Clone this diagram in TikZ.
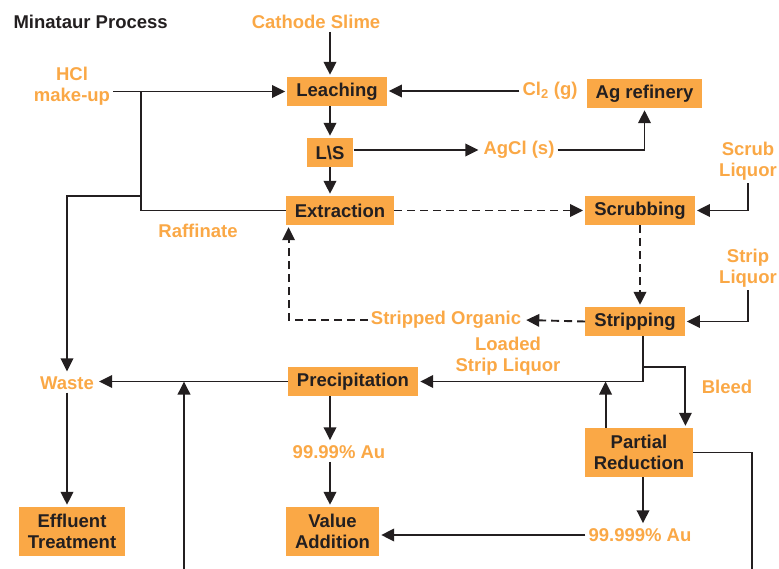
\documentclass[tikz,border=0pt]{standalone}
\usepackage{fontspec}
\setmainfont{Liberation Sans}
\usetikzlibrary{arrows.meta}
\definecolor{procorange}{RGB}{250,168,70}
\definecolor{procink}{RGB}{35,31,32}
\begin{document}
\begin{tikzpicture}[x=1pt,y=-1pt,
  font=\fontsize{18.5}{21}\selectfont\bfseries,
  box/.style={fill=procorange,text=procink,inner xsep=9pt,inner ysep=0pt,minimum height=29pt,align=center},
  lbl/.style={text=procorange,inner sep=3pt,align=center},
  flow/.style={draw=procink,line width=1.9pt,-{Triangle[length=13pt,width=12.5pt]},shorten >=2pt},
  line/.style={draw=procink,line width=1.9pt},
  dashflow/.style={flow,dash pattern=on 8pt off 5pt}]
\useasboundingbox (0,0) rectangle (779,569);
% title and feeds
\node[text=procink,anchor=west] (title) at (10,22) {Minataur Process};
\node[lbl] (cathode) at (316,22) {Cathode Slime};
\node[lbl] (hcl) at (72,86) {HCl\\make-up};
\node[lbl] (cl) at (550,91) {Cl\textsubscript{2} (g)};
\node[lbl] (agcl) at (519,150) {AgCl (s)};
\node[lbl] (scrubliq) at (748,161) {Scrub\\Liquor};
\node[lbl] (stripliq) at (748,268) {Strip\\Liquor};
\node[lbl] (raff) at (198,231) {Raffinate};
\node[lbl] (strorg) at (446,320) {Stripped Organic};
\node[lbl] (loaded) at (508,356) {Loaded\\Strip Liquor};
\node[lbl] (waste) at (67,383) {Waste};
\node[lbl] (bleed) at (727,387) {Bleed};
\node[lbl] (au4) at (339,452) {99.99\% Au};
\node[lbl] (au5) at (640,535) {99.999\% Au};
% process boxes
\node[box] (leach) at (337,91.5) {Leaching};
\node[box] (agref) at (644.5,93.5) {Ag refinery};
\node[box] (ls) at (330,152.5) {L\textbackslash S};
\node[box] (extr) at (340,210.5) {Extraction};
\node[box] (scrub) at (640,210.5) {Scrubbing};
\node[box] (strip) at (635,321.5) {Stripping};
\node[box] (precip) at (353,381.5) {Precipitation};
\node[box,minimum height=49pt] (partial) at (639,452.5) {Partial\\Reduction};
\node[box,minimum height=49pt] (effl) at (72,531.5) {Effluent\\Treatment};
\node[box,minimum height=49pt] (value) at (332.5,531.5) {Value\\Addition};
% junctions and loose ends
\coordinate (hclj) at (141,91.5);
\coordinate (rafj) at (141,196);
\coordinate (sbr) at (643,367);
\coordinate (pup) at ([xshift=21pt]partial.north west);
\coordinate (pout) at (752,569);
\coordinate (recin) at (184,569);
% leaching circuit
\draw[flow] (cathode.south -| ls) -- (leach.north -| ls);
\draw[flow] (hcl.east |- leach.west) -- (leach.west);
\draw[flow] (cl.west) -- (cl.west -| leach.east);
\draw[flow] (leach.south -| ls) -- (ls.north);
\draw[flow] (agcl.west -| ls.east) -- (agcl.west);
\draw[flow] (agcl.east) -| (agref.south);
\draw[flow] (ls.south) -- (ls.south |- extr.north);
\draw[line] (extr.west) -| (hclj);
\draw[flow] (rafj) -| (waste.north);
% solvent extraction
\draw[dashflow] (extr.east) -- (extr.east -| scrub.west);
\draw[flow] (scrubliq.south) |- (scrub.east);
\draw[dashflow] (scrub.south) -- (scrub.south |- strip.north);
\draw[flow] (stripliq.south) |- (strip.east);
\draw[dashflow] (strip.west) -- (strorg.east);
\draw[dashflow] (strorg.west) -| ([xshift=3pt]extr.south west);
% gold recovery
\draw[flow] (strip.south -| sbr) |- (precip.east);
\draw[flow] (sbr) -| ([xshift=-8pt]partial.north east);
\draw[flow,shorten >=0pt] (pup) -- (pup |- precip.east);
\draw[flow] (partial.south -| sbr) -- (au5.north -| sbr);
\draw[flow] (au5.west) -- (au5.west -| value.east);
\draw[line] (partial.east) -| (pout);
\draw[flow] (precip.south -| ls) -- (au4.north -| ls);
\draw[flow] (au4.south -| ls) -- (value.north -| ls);
\draw[flow] (precip.west) -- (precip.west -| waste.east);
\draw[flow,shorten >=0pt] (recin) -- (recin |- precip.west);
\draw[flow] (waste.south) -- (waste.south |- effl.north);
\end{tikzpicture}
\end{document}
